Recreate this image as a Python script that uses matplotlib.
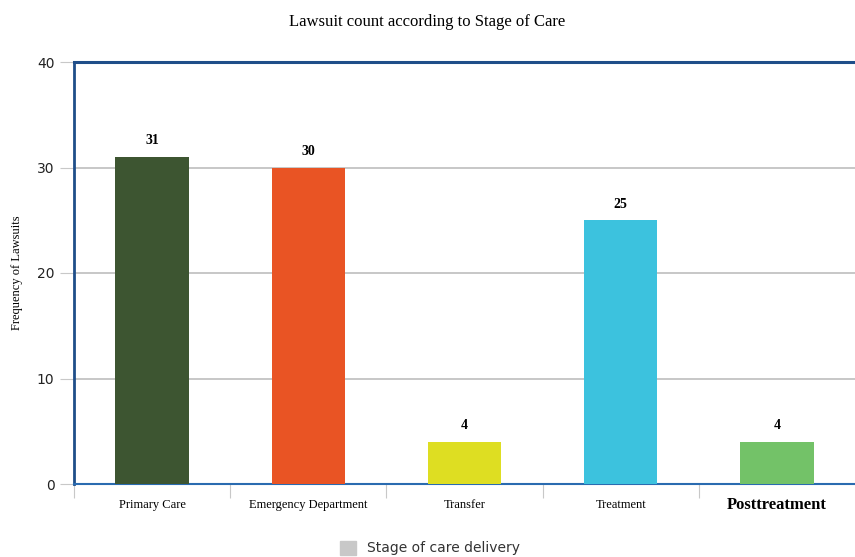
import numpy as np
import matplotlib.pyplot as plt
from matplotlib.patches import Patch

stages = ["Primary Care", "Emergency Department", "Transfer", "Treatment", "Posttreatment"]
counts = [31, 30, 4, 25, 4]
colors = ["#3d5531", "#e95424", "#dede22", "#3cc2de", "#73c268"]
yticks = [0, 10, 20, 30, 40]

fig = plt.figure(figsize=(8.55, 5.57), dpi=100)
ax = fig.add_axes([74/855, 73/557, 781/855, 422/557])

x = np.arange(len(stages))
ax.bar(x, counts, width=0.47, color=colors, zorder=3)
for xi, c in zip(x, counts):
    ax.text(xi, c + 0.9, str(c), ha="center", va="bottom", fontsize=10,
            fontweight="bold", family="Liberation Serif")

ax.set_xlim(-0.5, 4.5)
ax.set_ylim(0, 40)
ax.set_yticks(yticks)
ax.set_yticklabels([str(v) for v in yticks], fontsize=10, color="#222222")
ax.yaxis.grid(True, color="#bdbdbd", linewidth=1.2, zorder=0)
ax.tick_params(axis="y", length=10, color="#c8c8c8", pad=4)

# category ticks sit between bars
ax.set_xticks(np.arange(-0.5, 4.0, 1.0))
ax.set_xticklabels([])
ax.tick_params(axis="x", length=10, color="#c8c8c8")
for i, s in enumerate(stages):
    if s == "Posttreatment":
        ax.text(i, -1.2, s, ha="center", va="top", fontsize=12, fontweight="bold",
                family="Liberation Serif", transform=ax.transData)
    else:
        ax.text(i, -1.4, s, ha="center", va="top", fontsize=9,
                family="Liberation Serif", transform=ax.transData)

ax.spines["top"].set_color("#1f4e89")
ax.spines["top"].set_linewidth(2.2)
ax.spines["left"].set_color("#1f4e89")
ax.spines["left"].set_linewidth(2.0)
ax.spines["bottom"].set_color("#2a6bb0")
ax.spines["bottom"].set_linewidth(1.5)
ax.spines["right"].set_visible(False)

fig.text(0.5, 1 - 22/557, "Lawsuit count according to Stage of Care", ha="center",
         va="center", fontsize=12, family="Liberation Serif")
fig.text(17/855, 1 - 273/557, "Frequency of Lawsuits", rotation=90, ha="center",
         va="center", fontsize=9, family="Liberation Serif")

handle = Patch(facecolor="#c8c8c8", edgecolor="#c8c8c8")
fig.legend([handle], ["Stage of care delivery"], loc="center",
           bbox_to_anchor=(430/855, 1 - 548/557), frameon=False, fontsize=10,
           handlelength=1.2, handleheight=1.2, labelcolor="#333333")

fig.savefig("out.png", dpi=100)
